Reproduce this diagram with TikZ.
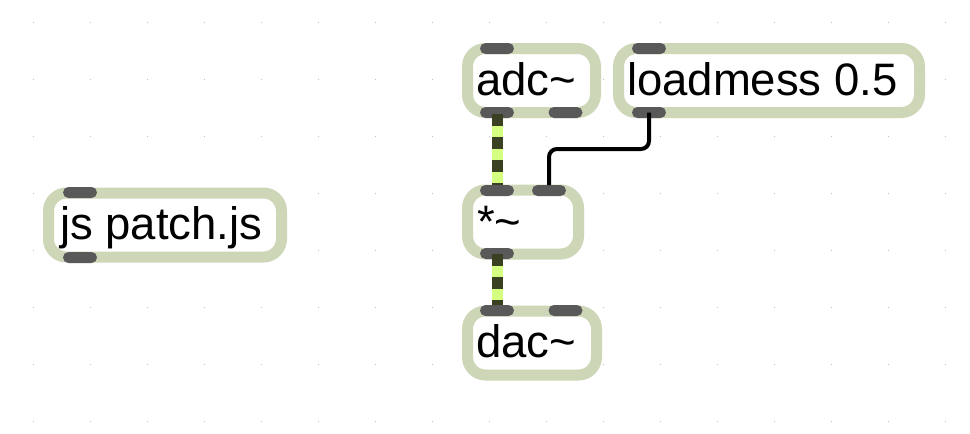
\documentclass[tikz,border=0pt]{standalone}
\usepackage{fontspec}
\setmainfont{Liberation Sans}
\usetikzlibrary{calc}
\definecolor{boxborder}{RGB}{205,214,183}
\definecolor{portgray}{RGB}{89,89,89}
\definecolor{sigdark}{RGB}{58,64,34}
\definecolor{siglight}{RGB}{212,255,128}
\definecolor{griddot}{RGB}{190,190,190}
\tikzset{
  objbox/.style={draw=boxborder, line width=11pt, fill=white, rounded corners=18pt,
    inner sep=0pt, outer sep=0pt, minimum height=64pt},
  port/.style={fill=portgray, rounded corners=5.5pt, inner sep=0pt, outer sep=0pt,
    minimum width=34pt, minimum height=11pt},
  objtext/.style={anchor=base west, inner sep=0pt, outer sep=0pt,
    font=\fontsize{45.5}{52}\selectfont},
  ctrlcable/.style={draw=black, line width=4pt, rounded corners=8pt},
  sigbase/.style={draw=siglight, line width=11pt},
  sigdash/.style={draw=sigdark, line width=11pt, dash pattern=on 11.5pt off 11.5pt},
}
\begin{document}
\begin{tikzpicture}[x=1pt,y=-1pt]
\useasboundingbox[fill=white] (0,0) rectangle (970,434);
% grid dots
\foreach \i in {0,...,16}{
  \foreach \j in {0,...,7}{
    \fill[griddot] ({33.3+57*\i-0.6},{22.3+57*\j-0.6}) rectangle ++(1.2,1.2);
  }
}
% boxes
\node[objbox, minimum width=128pt] (adc) at (531.5,80.5) {};
\node[objbox, minimum width=301pt] (load) at (769,80.5) {};
\node[objbox, minimum width=111pt] (mul) at (523,222) {};
\node[objbox, minimum width=129pt] (dac) at (532,343) {};
\node[objbox, minimum width=233pt] (js) at (165,225) {};
% texts
\node[objtext] (adcT) at (476,95) {adc\char"007E};
\node[objtext] (loadT) at (627,95) {loadmess 0.5};
\node[objtext] (mulT) at (477,237) {*\char"007E};
\node[objtext] (dacT) at (476,357) {dac\char"007E};
\node[objtext] (jsT) at (60,239) {js patch.js};
% ports
\node[port] (adcIn1) at (497,48.5) {};
\node[port] (adcOut1) at (497,112.5) {};
\node[port] (adcOut2) at (565.5,112.5) {};
\node[port] (loadIn1) at (649,48.5) {};
\node[port] (loadOut1) at (649,112.5) {};
\node[port] (mulIn1) at (497,190.5) {};
\node[port] (mulIn2) at (549,190.5) {};
\node[port] (mulOut1) at (497,253.5) {};
\node[port] (dacIn1) at (497,310.5) {};
\node[port] (dacIn2) at (565.5,310.5) {};
\node[port] (jsIn1) at (80,192.5) {};
\node[port] (jsOut1) at (80,257.5) {};
% control cable
\draw[ctrlcable] (loadOut1.center) -- ($(loadOut1.center)+(0,36.5)$) -| (mulIn2.north);
% signal cables
\draw[sigbase] ($(adcOut1.south)+(0,-4)$) -- (mulIn1.north);
\draw[sigdash] ($(adcOut1.south)+(0,-4)$) -- (mulIn1.north);
\draw[sigbase] ($(mulOut1.south)+(0,-5)$) -- (dacIn1.north);
\draw[sigdash] ($(mulOut1.south)+(0,-5)$) -- (dacIn1.north);
\end{tikzpicture}
\end{document}
